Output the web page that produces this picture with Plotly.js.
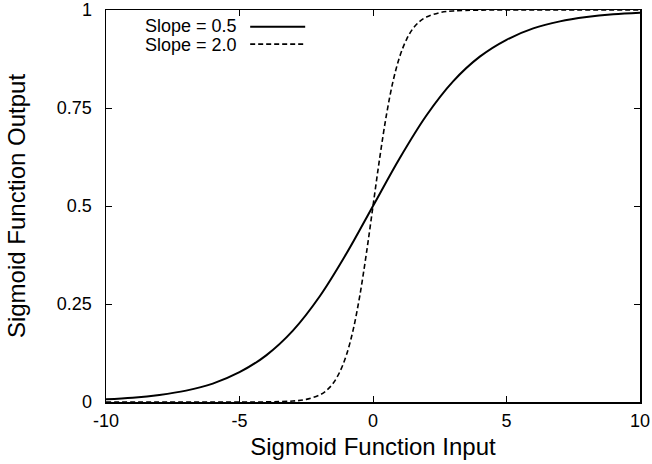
<!DOCTYPE html>
<html>
<head>
<meta charset="utf-8">
<script src="https://cdn.plot.ly/plotly-3.0.1.min.js"></script>
<style>html,body{margin:0;padding:0;background:#fff}#chart{width:652px;height:464px}</style>
</head>
<body>
<div id="chart"></div>
<script>
// Values
var xSlope05 = [-10,-9,-8,-7,-6,-5,-4,-3,-2,-1,0,1,2,3,4,5,6,7,8,9,10];
var ySlope05 = [0.007,0.011,0.018,0.029,0.047,0.076,0.119,0.182,0.269,0.378,0.5,0.622,0.731,0.818,0.881,0.924,0.953,0.971,0.982,0.989,0.993];
var xSlope20 = [-10,-6,-4,-3,-2.5,-2,-1.75,-1.5,-1.25,-1,-0.75,-0.5,-0.25,0,0.25,0.5,0.75,1,1.25,1.5,1.75,2,2.5,3,4,6,10];
var ySlope20 = [0,0,0.0003,0.0025,0.0067,0.018,0.029,0.047,0.076,0.119,0.182,0.269,0.378,0.5,0.622,0.731,0.818,0.881,0.924,0.953,0.971,0.982,0.9933,0.9975,0.9997,1,1];
var seriesNames = ["Slope = 0.5", "Slope = 2.0"];
var xTickVals = [-10,-5,0,5,10];
var xTickText = ["-10","-5","0","5","10"];
var yTickVals = [0,0.25,0.5,0.75,1];
var yTickText = ["0","0.25","0.5","0.75","1"];

var FONT = "Liberation Sans, Arial, Helvetica, sans-serif";
var traces = [
  {x: xSlope05, y: ySlope05, mode: "lines", name: seriesNames[0], line: {color: "#000", width: 2, shape: "spline"}, showlegend: false},
  {x: xSlope20, y: ySlope20, mode: "lines", name: seriesNames[1], line: {color: "#000", width: 1.6, dash: "5px,3px", shape: "spline"}, showlegend: false}
];
var axCommon = {showline: true, linecolor: "#000", linewidth: 1.5, mirror: "ticks", ticks: "inside", ticklen: 6, tickwidth: 1, tickcolor: "#000", showgrid: false, zeroline: false, tickfont: {family: FONT, size: 18, color: "#000"}};
var layout = {
  width: 652, height: 464,
  margin: {l: 106, r: 12, t: 10, b: 62},
  paper_bgcolor: "#fff", plot_bgcolor: "#fff",
  xaxis: Object.assign({}, axCommon, {range: [-10, 10], tickvals: xTickVals, ticktext: xTickText, ticklabelstandoff: 2, title: {text: "Sigmoid Function Input", font: {family: FONT, size: 24, color: "#000"}, standoff: 8}}),
  yaxis: Object.assign({}, axCommon, {range: [0, 1], tickvals: yTickVals, ticktext: yTickText, ticklabelstandoff: 9, title: {text: "Sigmoid Function Output", font: {family: FONT, size: 24, color: "#000"}, standoff: 24}}),
  annotations: [
    {xref: "paper", yref: "paper", x: 0.249, y: 0.959, xanchor: "right", yanchor: "middle", text: seriesNames[0], showarrow: false, font: {family: FONT, size: 18, color: "#000"}},
    {xref: "paper", yref: "paper", x: 0.249, y: 0.911, xanchor: "right", yanchor: "middle", text: seriesNames[1], showarrow: false, font: {family: FONT, size: 18, color: "#000"}}
  ],
  shapes: [
    {type: "line", xref: "paper", yref: "paper", x0: 0.27, x1: 0.373, y0: 0.957, y1: 0.957, line: {color: "#000", width: 2}},
    {type: "line", xref: "paper", yref: "paper", x0: 0.27, x1: 0.373, y0: 0.913, y1: 0.913, line: {color: "#000", width: 1.6, dash: "5px,3px"}}
  ]
};
Plotly.newPlot("chart", traces, layout, {staticPlot: true, displayModeBar: false});
</script>
</body>
</html>
